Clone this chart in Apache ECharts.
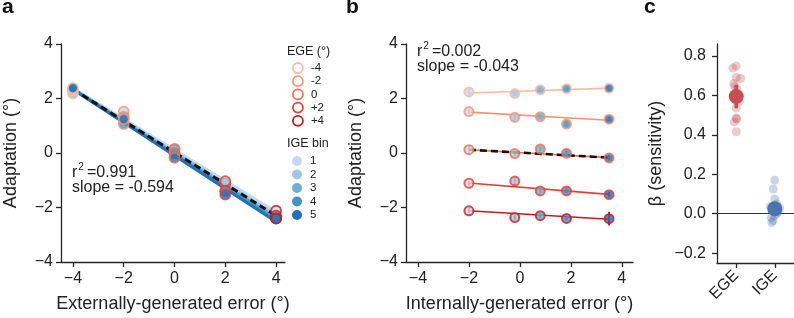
<!DOCTYPE html>
<html>
<head>
<meta charset="utf-8">
<script src="https://cdn.jsdelivr.net/npm/echarts@6/dist/echarts.min.js"></script>
<style>
  html, body { margin: 0; padding: 0; background: #fff; }
  #chart { width: 794px; height: 318px; }
</style>
</head>
<body>
<div id="chart"></div>
<script>
// EGE levels (rows) and IGE bins (columns)
const egeNames = ['-4', '-2', '0', '+2', '+4'];
const egeColors = ['#fcbba1', '#fc9272', '#fb6a4a', '#ef3b2c', '#cb181d'];
const binNames = ['1', '2', '3', '4', '5'];
const binColors = ['#c6dbef', '#9ecae1', '#6baed6', '#4292c6', '#2171b5'];

const egeX = [-4, -2, 0, 2, 4];            // externally-generated error
const binX = [-2.0, -0.2, 0.8, 1.83, 3.5]; // internally-generated error (bin centres)

// adaptation, rows = EGE level, cols = IGE bin
const adaptation = [
  [2.24, 2.18, 2.32, 2.36, 2.38],
  [1.52, 1.31, 1.33, 1.06, 1.24],
  [0.12, -0.02, 0.15, -0.01, -0.18],
  [-1.11, -1.03, -1.39, -1.39, -1.53],
  [-2.12, -2.37, -2.30, -2.40, -2.41]
];
// s.e.m. half widths for panel b
const adaptErr = [
  [0.16, 0.08, 0.08, 0.08, 0.14],
  [0.08, 0.08, 0.08, 0.08, 0.08],
  [0.16, 0.08, 0.08, 0.08, 0.08],
  [0.08, 0.15, 0.08, 0.08, 0.10],
  [0.10, 0.08, 0.08, 0.08, 0.25]
];

// fitted lines: panel a (per IGE bin, at x=-4 and x=4)
const fitAx = [-4, 4];
const fitA = [[2.38, -2.16], [2.36, -2.28], [2.35, -2.38], [2.34, -2.45], [2.33, -2.52]];
const fitAall = [2.34, -2.30];
// panel b (per EGE level, at x=-2 and x=3.5)
const fitBx = [-2.0, 3.5];
const fitB = [[2.20, 2.38], [1.50, 1.20], [0.12, -0.17], [-1.10, -1.52], [-2.12, -2.43]];
const fitBall = [0.12, -0.17];

// panel c: sensitivity per participant
const betaCats = ['EGE', 'IGE'];
const betaEGE = [0.748, 0.738, 0.69, 0.685, 0.66, 0.645, 0.63, 0.60, 0.57, 0.535, 0.485, 0.48, 0.465, 0.415];
const betaIGE = [0.17, 0.125, 0.075, 0.05, 0.04, 0.035, 0.03, 0.02, 0.015, 0.01, 0.0, -0.01, -0.02, -0.035, -0.045];
const betaMean = [0.594, 0.025];
const betaSem = [0.06, 0.025];
const betaColors = ['#c44e52', '#4c72b0'];

const tickVals = [-4, -2, 0, 2, 4];

const FONT = 'Liberation Sans, Arial, sans-serif';
const AX = '#262626';

const minus = v => (v < 0 ? '\u2212' + Math.abs(v) : String(v));
const minus1 = v => (v < 0 ? '\u2212' + Math.abs(v).toFixed(1) : v.toFixed(1));

function baseAxis(extra) {
  return Object.assign({
    axisLine: { show: true, onZero: false, lineStyle: { color: AX, width: 1.3 } },
    axisTick: { show: true, length: 5, lineStyle: { color: AX, width: 1.3 } },
    axisLabel: { color: '#222', fontSize: 16, fontFamily: FONT, margin: 8 },
    splitLine: { show: false },
    nameTextStyle: { color: '#222', fontSize: 18, fontFamily: FONT },
    nameLocation: 'middle'
  }, extra);
}

const xAxes = [
  baseAxis({ gridIndex: 0, type: 'value', min: -4.47, max: 4.35, name: 'Externally-generated error (°)', nameGap: 33,
    axisTick: { show: true, length: 5, customValues: tickVals, lineStyle: { color: AX, width: 1.3 } },
    axisLabel: { color: '#222', fontSize: 16, fontFamily: FONT, margin: 9, customValues: tickVals, formatter: minus } }),
  baseAxis({ gridIndex: 1, type: 'value', min: -4.47, max: 4.44, name: 'Internally-generated error (°)', nameGap: 33,
    axisTick: { show: true, length: 5, customValues: tickVals, lineStyle: { color: AX, width: 1.3 } },
    axisLabel: { color: '#222', fontSize: 16, fontFamily: FONT, margin: 9, customValues: tickVals, formatter: minus } }),
  baseAxis({ gridIndex: 2, type: 'category', data: betaCats, boundaryGap: true,
    jitter: 10, jitterOverlap: false, jitterMargin: 0,
    axisTick: { show: true, length: 5, alignWithLabel: true, lineStyle: { color: AX, width: 1.3 } },
    axisLabel: { color: '#222', fontSize: 16, fontFamily: FONT, margin: 10, rotate: 45 } })
];

const yAxes = [
  baseAxis({ gridIndex: 0, type: 'value', min: -4, max: 4, interval: 2, name: 'Adaptation (°)', nameGap: 41,
    axisLabel: { color: '#222', fontSize: 16, fontFamily: FONT, margin: 8, formatter: minus } }),
  baseAxis({ gridIndex: 1, type: 'value', min: -4, max: 4, interval: 2, name: 'Adaptation (°)', nameGap: 41,
    axisLabel: { color: '#222', fontSize: 16, fontFamily: FONT, margin: 8, formatter: minus } }),
  baseAxis({ gridIndex: 2, type: 'value', min: -0.25, max: 0.86, name: 'β (sensitivity)', nameGap: 52,
    axisTick: { show: true, length: 5, customValues: [-0.2, 0, 0.2, 0.4, 0.6, 0.8], lineStyle: { color: AX, width: 1.3 } },
    axisLabel: { color: '#222', fontSize: 16, fontFamily: FONT, margin: 11, customValues: [-0.2, 0, 0.2, 0.4, 0.6, 0.8], formatter: minus1 } })
];

const series = [];

// panel a: per-bin fitted lines
fitA.forEach((f, i) => {
  series.push({
    type: 'line', xAxisIndex: 0, yAxisIndex: 0, name: binNames[i], showSymbol: false, silent: true,
    data: fitAx.map((x, k) => [x, f[k]]),
    lineStyle: { color: binColors[i], width: 3 }, z: 2
  });
});
series.push({
  type: 'line', xAxisIndex: 0, yAxisIndex: 0, showSymbol: false, silent: true,
  data: fitAx.map((x, k) => [x, fitAall[k]]),
  lineStyle: { color: '#111', width: 3, type: [7, 4] }, z: 3
});
// panel a: points, one series per IGE bin
binNames.forEach((b, j) => {
  series.push({
    type: 'scatter', xAxisIndex: 0, yAxisIndex: 0, name: b, symbolSize: 10, z: 4,
    itemStyle: { color: binColors[j] },
    data: egeX.map((x, i) => ({
      value: [x, adaptation[i][j]],
      itemStyle: { color: binColors[j], borderColor: egeColors[i], borderWidth: 1.8 }
    }))
  });
});

// panel b: per-EGE fitted lines
fitB.forEach((f, i) => {
  series.push({
    type: 'line', xAxisIndex: 1, yAxisIndex: 1, name: egeNames[i], showSymbol: false, silent: true,
    data: fitBx.map((x, k) => [x, f[k]]),
    lineStyle: { color: egeColors[i], width: 1.6 }, z: 2
  });
});
series.push({
  type: 'line', xAxisIndex: 1, yAxisIndex: 1, showSymbol: false, silent: true,
  data: fitBx.map((x, k) => [x, fitBall[k]]),
  lineStyle: { color: '#111', width: 2.6, type: [7, 4] }, z: 3
});
// panel b: error bars
const errData = [];
adaptation.forEach((row, i) => row.forEach((v, j) => errData.push([binX[j], v, adaptErr[i][j], i])));
series.push({
  type: 'custom', xAxisIndex: 1, yAxisIndex: 1, silent: true, z: 3,
  data: errData,
  renderItem: (params, api) => {
    const lo = api.coord([api.value(0), api.value(1) - api.value(2)]);
    const hi = api.coord([api.value(0), api.value(1) + api.value(2)]);
    return {
      type: 'line',
      shape: { x1: lo[0], y1: lo[1], x2: hi[0], y2: hi[1] },
      style: { stroke: egeColors[api.value(3)], lineWidth: 2 }
    };
  }
});
// panel b: points, one series per EGE level
egeNames.forEach((e, i) => {
  series.push({
    type: 'scatter', xAxisIndex: 1, yAxisIndex: 1, name: e, symbolSize: 9, z: 4,
    itemStyle: { color: egeColors[i] },
    data: binX.map((x, j) => ({
      value: [x, adaptation[i][j]],
      itemStyle: { color: binColors[j], borderColor: egeColors[i], borderWidth: 2 }
    }))
  });
});

// panel c
[betaEGE, betaIGE].forEach((vals, c) => {
  series.push({
    type: 'scatter', xAxisIndex: 2, yAxisIndex: 2, symbolSize: 9, z: 3,
    itemStyle: { color: betaColors[c], opacity: 0.3 },
    data: vals.map(v => [c, v])
  });
  series.push({
    type: 'line', xAxisIndex: 2, yAxisIndex: 2, showSymbol: false, silent: true, z: 4,
    data: [[c, betaMean[c] - betaSem[c]], [c, betaMean[c] + betaSem[c]]],
    lineStyle: { color: betaColors[c], width: 3.5 }
  });
  series.push({
    type: 'line', xAxisIndex: 2, yAxisIndex: 2, symbol: 'circle', symbolSize: 15, showSymbol: true, z: 5,
    data: [[c, betaMean[c]]],
    itemStyle: { color: betaColors[c] }, lineStyle: { width: 0 }
  });
});
series.push({
  type: 'line', xAxisIndex: 2, yAxisIndex: 2, data: [], silent: true,
  markLine: {
    symbol: 'none', silent: true, label: { show: false },
    lineStyle: { color: '#333', width: 1, type: 'solid' },
    data: [{ yAxis: 0 }]
  }
});

const legendText = { color: '#222', fontSize: 11.5, fontFamily: FONT, padding: [0, 0, 0, 3], lineHeight: 11 };
const annRich = {
  r: { fontSize: 16, fontFamily: FONT, fill: '#222', lineHeight: 15, verticalAlign: 'bottom' },
  s: { fontSize: 10, fontFamily: FONT, fill: '#222', lineHeight: 19, verticalAlign: 'top', padding: [0, 3, 0, 1] }
};

const option = {
  animation: false,
  grid: [
    { left: 61, right: 509, top: 44, bottom: 55 },
    { left: 406, right: 161, top: 44, bottom: 55 },
    { left: 717, right: 0, top: 44, bottom: 55 }
  ],
  xAxis: xAxes,
  yAxis: yAxes,
  title: [
    { text: 'a', left: 2, top: -3, padding: 0, textStyle: { fontSize: 21, fontWeight: 'bold', color: '#111', fontFamily: FONT } },
    { text: 'b', left: 346, top: -3, padding: 0, textStyle: { fontSize: 21, fontWeight: 'bold', color: '#111', fontFamily: FONT } },
    { text: 'c', left: 644, top: -3, padding: 0, textStyle: { fontSize: 21, fontWeight: 'bold', color: '#111', fontFamily: FONT } },
    { text: 'EGE (°)', left: 287, top: 45, padding: 0, textStyle: { fontSize: 12.5, fontWeight: 'normal', color: '#222', fontFamily: FONT } },
    { text: 'IGE bin', left: 287, top: 137, padding: 0, textStyle: { fontSize: 12.5, fontWeight: 'normal', color: '#222', fontFamily: FONT } }
  ],
  legend: [
    {
      orient: 'vertical', left: 292, top: 62, padding: 0, itemWidth: 10, itemHeight: 10, itemGap: 1.2,
      selectedMode: false, icon: 'circle', textStyle: legendText,
      data: egeNames.map((n, i) => ({ name: n, itemStyle: { color: '#fff', borderColor: egeColors[i], borderWidth: 1.8 } }))
    },
    {
      orient: 'vertical', left: 292, top: 155, padding: 0, itemWidth: 10, itemHeight: 10, itemGap: 1.5,
      selectedMode: false, icon: 'circle', textStyle: legendText,
      data: binNames.map((n, i) => ({ name: n, itemStyle: { color: binColors[i], borderWidth: 0 } }))
    }
  ],
  graphic: [
    {
      type: 'text', left: 72, top: 162, silent: true,
      style: { text: '{r|r}{s|2}{r|=0.991}\n{r|slope = -0.594}', rich: annRich }
    },
    {
      type: 'text', left: 417, top: 41, silent: true,
      style: { text: '{r|r}{s|2}{r|=0.002}\n{r|slope = -0.043}', rich: annRich }
    }
  ],
  series: series
};

const chart = echarts.init(document.getElementById('chart'), null, { renderer: 'canvas' });
chart.setOption(option);
</script>
</body>
</html>
